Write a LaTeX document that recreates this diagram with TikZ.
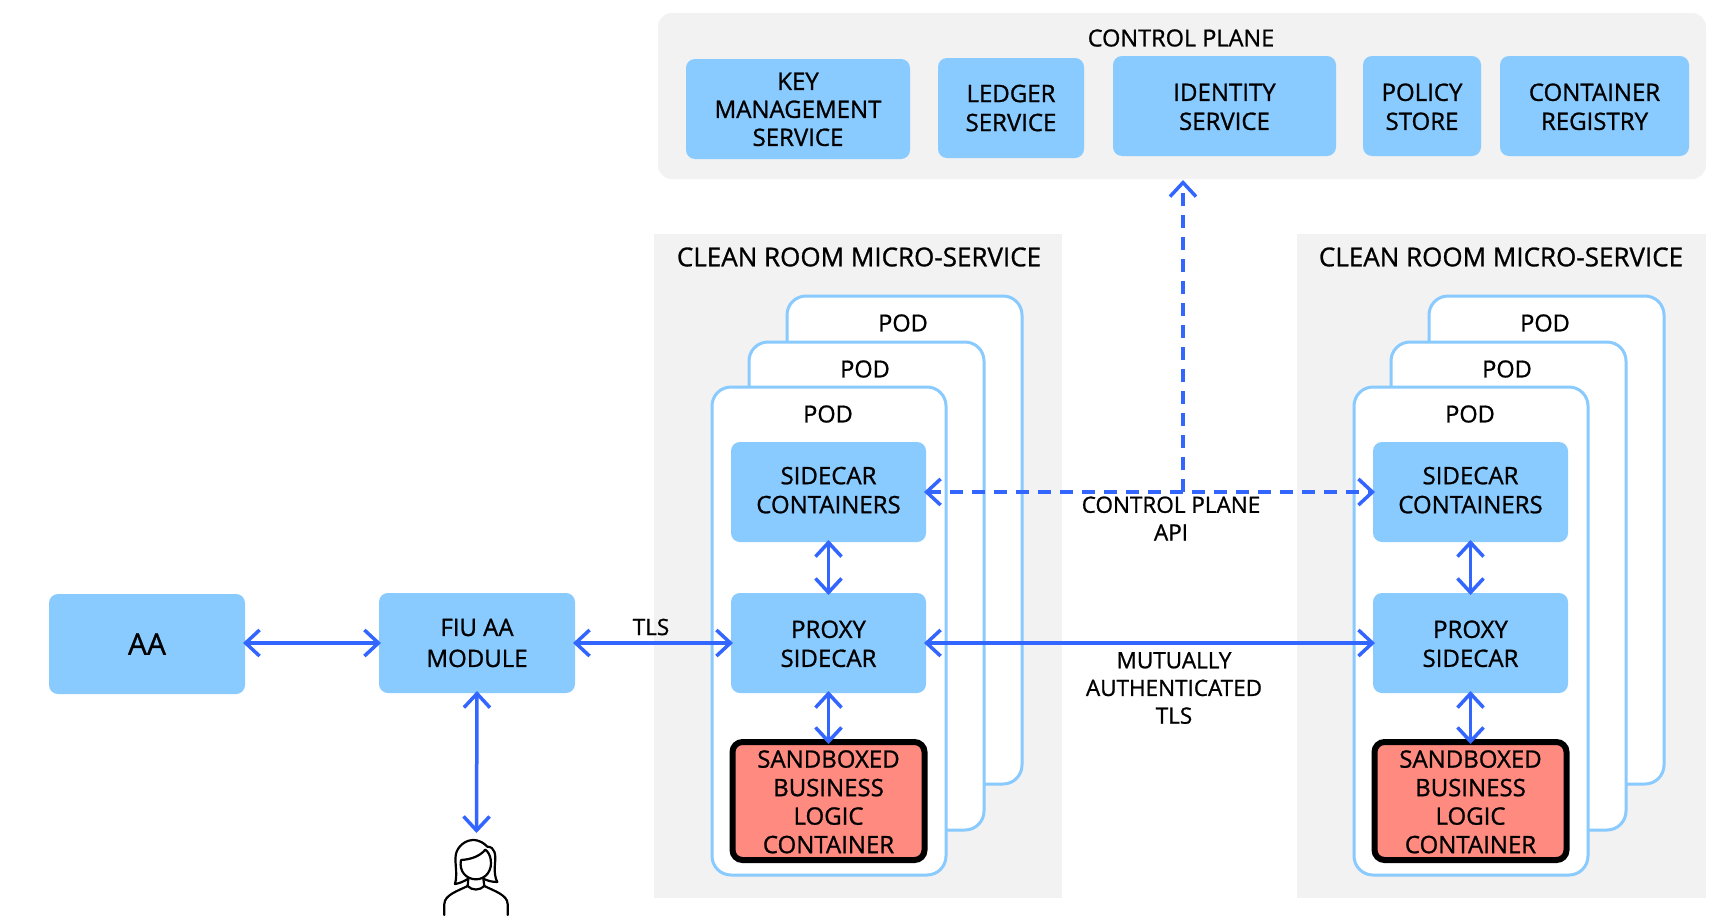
\documentclass[tikz,border=0pt]{standalone}
\usepackage{fontspec}
\setmainfont{Open Sans}[RawFeature={embolden=1}]
\usetikzlibrary{arrows.meta}
\definecolor{boxblue}{HTML}{89CAFF}
\definecolor{linkblue}{HTML}{3366FF}
\definecolor{panelgrey}{HTML}{F2F2F2}
\definecolor{sandred}{HTML}{FF8A80}
\tikzset{
  x=1pt,y=-1pt,
  panel/.style={fill=panelgrey,draw=none,rounded corners=#1,inner sep=0pt,outer sep=0pt},
  panel/.default=0pt,
  svc/.style={fill=boxblue,draw=none,rounded corners=9pt,inner sep=0pt,outer sep=0pt,align=center,anchor=north west,font=\fontsize{24}{29}\selectfont,text=black},
  sandbox/.style={fill=sandred,draw=black,line width=6pt,rounded corners=10pt,inner sep=0pt,outer sep=0pt,align=center,anchor=north west,font=\fontsize{24}{28.5}\selectfont},
  podbox/.style={fill=white,draw=boxblue,line width=3pt,rounded corners=19pt,inner sep=0pt,outer sep=0pt,anchor=north west},
  lbl/.style={inner sep=0pt,align=center,font=\fontsize{23.5}{29}\selectfont,text=black},
  small/.style={inner sep=0pt,align=center,font=\fontsize{22.5}{27.7}\selectfont,text=black},
  link/.style={draw=linkblue,line width=3.5pt,shorten <=-2pt,shorten >=-2pt,{Straight Barb[length=14pt,width=26pt]}-{Straight Barb[length=14pt,width=26pt]}},
  uplink/.style={draw=linkblue,line width=3.5pt,dash pattern=on 13pt off 9pt,-{Straight Barb[length=14pt,width=26pt]}},
  dlink/.style={link,dash pattern=on 13pt off 9pt},
  personline/.style={draw=black,line width=2.2pt,line cap=round,line join=round}
}
\newcommand{\boxat}[6]{\node[#1,minimum width=#4pt,minimum height=#5pt] (#2) at #3 {#6};}
\newcommand{\dnrule}[1]{\rule{0pt}{#1pt}}
\newcommand{\uprule}{\rule[-4pt]{0pt}{4pt}}
\begin{document}
\begin{tikzpicture}
\useasboundingbox (0,0) rectangle (1728,919);
\fill[white] (0,0) rectangle (1728,919);
% control plane
\node[panel=14pt,anchor=north west,minimum width=1048pt,minimum height=166pt] (cp) at (658,13) {};
\node[lbl] (cptitle) at (1181,38) {CONTROL PLANE};
\boxat{svc,font=\fontsize{24}{28}\selectfont}{kms}{(686,59)}{224}{100}{\dnrule{18}KEY\\MANAGEMENT\\SERVICE}
\boxat{svc}{ledger}{(938,58)}{146}{100}{\dnrule{17}LEDGER\\SERVICE}
\boxat{svc}{identity}{(1113,56)}{223}{100}{\dnrule{19}IDENTITY\\SERVICE}
\boxat{svc}{policy}{(1363,56)}{118}{100}{\dnrule{19}POLICY\\STORE}
\boxat{svc}{registry}{(1500,56)}{189}{100}{\dnrule{19}CONTAINER\\REGISTRY}
% clean rooms
\node[panel,anchor=north west,minimum width=408pt,minimum height=664pt] (roomA) at (654,234) {};
\node[panel,anchor=north west,minimum width=409pt,minimum height=664pt] (roomB) at (1297,234) {};
\node[lbl,font=\fontsize{26}{29}\selectfont] (roomAt) at (859,257) {CLEAN ROOM MICRO-SERVICE};
\node[lbl,font=\fontsize{26}{29}\selectfont] (roomBt) at (1501,257) {CLEAN ROOM MICRO-SERVICE};
% pods A
\node[podbox,minimum width=235pt,minimum height=488pt] (podA3) at (787,296) {};
\node[podbox,minimum width=235pt,minimum height=488pt] (podA2) at (749,342) {};
\node[podbox,minimum width=234pt,minimum height=488pt] (podA1) at (712,387) {};
\node[lbl] (podA3t) at (903,323) {POD};
\node[lbl] (podA2t) at (865,369) {POD};
\node[lbl] (podA1t) at (828,414) {POD};
\boxat{svc}{sideA}{(731,442)}{195}{100}{SIDECAR\\CONTAINERS\uprule}
\boxat{svc}{proxyA}{(731,593)}{195}{100}{\dnrule{19}PROXY\\SIDECAR}
\boxat{sandbox}{sandA}{(732.5,742)}{192}{118}{\dnrule{19}SANDBOXED\\BUSINESS\\LOGIC\\CONTAINER}
% pods B
\node[podbox,minimum width=235pt,minimum height=488pt] (podB3) at (1429,296) {};
\node[podbox,minimum width=235pt,minimum height=488pt] (podB2) at (1391,342) {};
\node[podbox,minimum width=234pt,minimum height=488pt] (podB1) at (1354,387) {};
\node[lbl] (podB3t) at (1545,323) {POD};
\node[lbl] (podB2t) at (1507,369) {POD};
\node[lbl] (podB1t) at (1470,414) {POD};
\boxat{svc}{sideB}{(1373,442)}{195}{100}{SIDECAR\\CONTAINERS\uprule}
\boxat{svc}{proxyB}{(1373,593)}{195}{100}{\dnrule{19}PROXY\\SIDECAR}
\boxat{sandbox}{sandB}{(1374.5,742)}{192}{118}{\dnrule{19}SANDBOXED\\BUSINESS\\LOGIC\\CONTAINER}
% left boxes
\boxat{svc,font=\fontsize{30}{36}\selectfont}{aa}{(49,594)}{196}{100}{AA}
\boxat{svc,font=\fontsize{24}{31}\selectfont}{fiu}{(379,593)}{196}{100}{\dnrule{17}FIU AA\\MODULE}
% person
\coordinate (personTop) at (476.5,831);
\begin{scope}[shift={(400,780)},x=0.3333pt,y=-0.3333pt]
\draw[personline] (133,405) -- (133,372) .. controls (133,345) and (175,332) .. (203,318)
  .. controls (215,332) and (240,332) .. (253,318)
  .. controls (281,332) and (323,345) .. (323,372) -- (323,405);
\draw[personline] (205,296) .. controls (190,305) and (178,310) .. (165,312)
  .. controls (175,275) and (160,240) .. (170,215)
  .. controls (180,190) and (205,180) .. (218,180)
  .. controls (240,180) and (252,190) .. (262,200)
  .. controls (285,200) and (288,225) .. (285,250)
  .. controls (283,275) and (285,295) .. (292,306)
  .. controls (275,306) and (262,302) .. (250,296);
\draw[personline] (183,240) .. controls (176,275) and (200,298) .. (228,298)
  .. controls (258,298) and (278,270) .. (272,238)
  .. controls (270,225) and (264,215) .. (256,209)
  .. controls (240,228) and (215,238) .. (183,240);
\draw[personline] (205,296) -- (203,318);
\draw[personline] (250,296) -- (253,318);
\end{scope}
% connectors
\coordinate (cpTip) at (1183,180);
\coordinate (cpJoin) at (1183,492);
\draw[link] (aa.east|-fiu.west) -- (fiu.west);
\draw[link] (fiu.east) -- (proxyA.west);
\draw[link] (fiu.south) -- (personTop);
\draw[link] (sideA.south) -- (proxyA.north);
\draw[link] (proxyA.south) -- (proxyA.south|-sandA.north);
\draw[link] (sideB.south) -- (proxyB.north);
\draw[link] (proxyB.south) -- (proxyB.south|-sandB.north);
\draw[link] (proxyA.east) -- (proxyB.west);
\draw[dlink] (sideA.east) -- (sideB.west);
\draw[uplink] (cpJoin) -- (cpTip);
% labels
\node[small] (tlsA) at (651,627) {TLS};
\node[small] (apil) at (1171,518.5) {CONTROL PLANE\\API};
\node[small] (mtls) at (1174,688) {MUTUALLY\\AUTHENTICATED\\TLS};
\end{tikzpicture}
\end{document}
